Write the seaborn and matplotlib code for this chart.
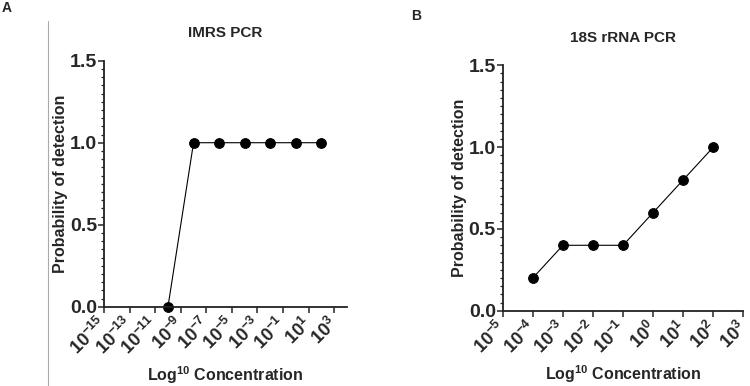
import matplotlib
matplotlib.use("Agg")
import matplotlib.pyplot as plt
import matplotlib.ticker as mticker
import seaborn as sns
import pandas as pd

# values
conc_imrs = [1e-10, 1e-8, 1e-6, 1e-4, 1e-2, 1e0, 1e2]
pod_imrs = [0.0, 1.0, 1.0, 1.0, 1.0, 1.0, 1.0]

conc_18s = [1e-4, 1e-3, 1e-2, 1e-1, 1e0, 1e1, 1e2]
pod_18s = [0.2, 0.4, 0.4, 0.4, 0.6, 0.8, 1.0]

exp_ticks_imrs = [-15, -13, -11, -9, -7, -5, -3, -1, 1, 3]
exp_ticks_18s = [-5, -4, -3, -2, -1, 0, 1, 2, 3]

sns.set_style("ticks")
plt.rcParams["font.family"] = ["Liberation Sans", "DejaVu Sans"]
plt.rcParams["mathtext.fontset"] = "custom"
plt.rcParams["mathtext.rm"] = "Liberation Sans"
plt.rcParams["mathtext.bf"] = "Liberation Sans:bold"
plt.rcParams["axes.unicode_minus"] = False

fig = plt.figure(figsize=(7.5, 3.86), dpi=100)
ax_a = fig.add_axes([0.1387, 0.2054, 0.324, 0.6373])
ax_b = fig.add_axes([0.6703, 0.195, 0.3209, 0.6358])


def draw(ax, conc, pod, exps, xlim, title):
    df = pd.DataFrame({"conc": conc, "pod": pod})
    ax.set_xscale("log")
    sns.lineplot(data=df, x="conc", y="pod", ax=ax, color="black", linewidth=0.8,
                 marker="o", markersize=7, markeredgecolor="black", clip_on=False)
    ax.set_xlim(*xlim)
    ax.set_ylim(0, 1.5)
    ax.xaxis.set_major_locator(mticker.FixedLocator([10.0 ** e for e in exps]))
    ax.xaxis.set_major_formatter(mticker.FixedFormatter(
        [r"$\mathbf{10^{%d}}$" % e for e in exps]))
    ax.xaxis.set_minor_locator(mticker.NullLocator())
    ax.yaxis.set_major_locator(mticker.MultipleLocator(0.5))
    ax.yaxis.set_minor_locator(mticker.MultipleLocator(0.05))
    ax.yaxis.set_major_formatter(mticker.FormatStrFormatter("%.1f"))
    for s in ["top", "right"]:
        ax.spines[s].set_visible(False)
    for s in ["left", "bottom"]:
        ax.spines[s].set_linewidth(1.3)
        ax.spines[s].set_color("#222222")
    ax.tick_params(axis="y", which="major", length=4, width=1.1, labelsize=14, pad=1)
    ax.tick_params(axis="y", which="minor", length=2.5, width=0.9)
    ax.tick_params(axis="x", which="major", length=4, width=1.1, labelsize=13, pad=6)
    for lab in ax.get_yticklabels():
        lab.set_fontweight("bold")
    plt.setp(ax.get_xticklabels(), rotation=45, ha="right", va="center",
             rotation_mode="anchor")
    ax.set_title(title, fontsize=11, fontweight="bold", pad=17)
    ax.set_ylabel("Probability of detection", fontsize=11.5, fontweight="bold", labelpad=1)
    ax.set_xlabel(r"Log$^{\mathbf{10}}$ Concentration", fontsize=11.5, fontweight="bold",
                  labelpad=4)


draw(ax_a, conc_imrs, pod_imrs, exp_ticks_imrs, (1e-15, 1e4), "IMRS PCR")
draw(ax_b, conc_18s, pod_18s, exp_ticks_18s, (1e-5, 1e3), "18S rRNA PCR")

# divider line and panel letters
fig.add_artist(plt.Line2D([48 / 750, 48 / 750], [0, 1 - 21 / 386], color="#aaaaaa",
                          linewidth=0.8))
fig.text(2 / 750, 1 - 8 / 386, "A", fontsize=10, fontweight="bold", va="center")
fig.text(411 / 750, 1 - 16 / 386, "B", fontsize=10, fontweight="bold", va="center")

fig.savefig("out.png", dpi=100)
